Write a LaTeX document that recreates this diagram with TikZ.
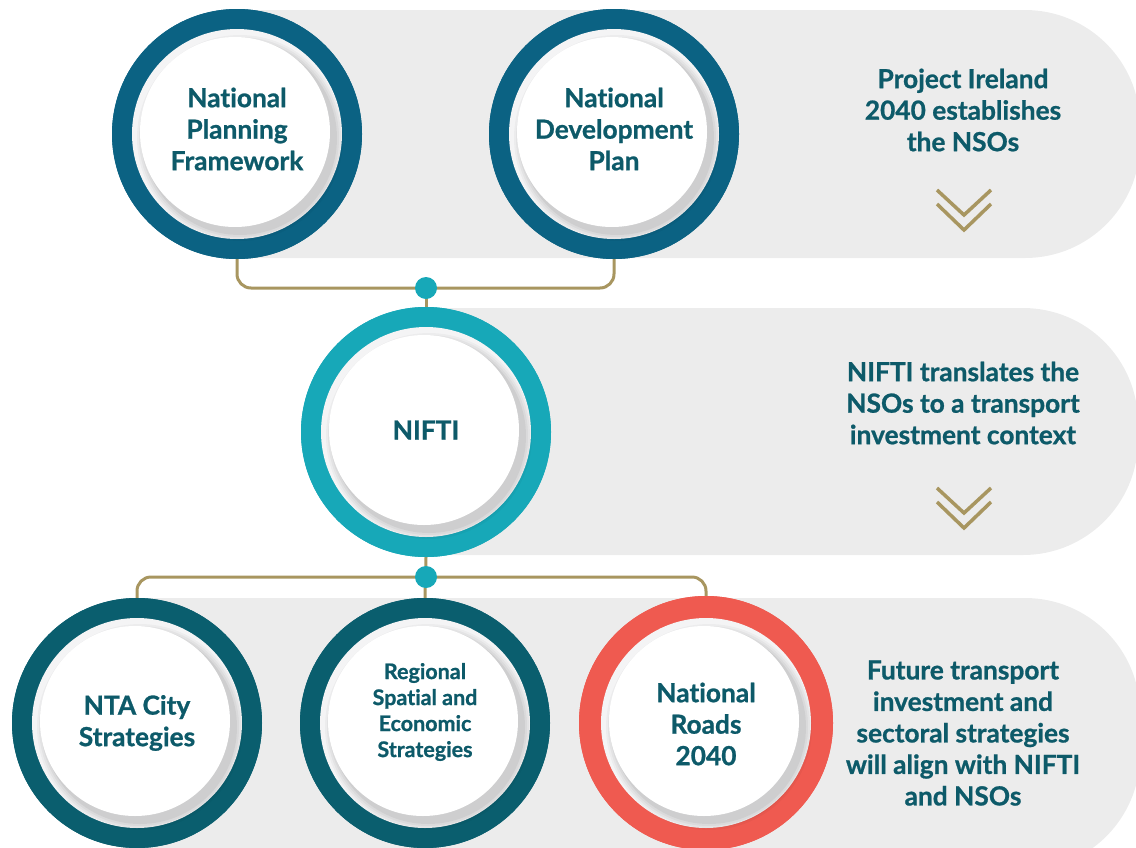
\documentclass[tikz,border=0pt]{standalone}
\usepackage{fontspec}
\setmainfont{Lato}[Ligatures=NoCommon, BoldFeatures={FakeBold=0.9}]
\definecolor{bandgray}{HTML}{ECECEC}
\definecolor{gold}{HTML}{A89660}
\definecolor{navy}{HTML}{0B6283}
\definecolor{darkteal}{HTML}{0A5E6E}
\definecolor{tealc}{HTML}{17A8B8}
\definecolor{coral}{HTML}{EF5A50}
\definecolor{txt}{HTML}{0D5A69}
\definecolor{innergray}{HTML}{F4F4F5}
\newcommand\bandshape[4]{% left, top, bottom, right
  \fill[band] (#1,#2) -- ({#4-115},#2) arc[start angle=90,end angle=0,radius=115pt]
    -- (#4,{#3-115}) arc[start angle=0,end angle=-90,radius=115pt] -- (#1,#3) -- cycle;}
\tikzset{
  band/.style={fill=bandgray},
  conn/.style={draw=gold, line width=3pt, rounded corners=14pt},
  chev/.style={draw=gold, line width=3.5pt},
  joint/.style={circle, fill=tealc, minimum size=22pt, inner sep=0pt},
  disc/.style={circle, minimum size=250pt, inner sep=0pt, fill=#1,
    path picture={
      \fill[innergray] (path picture bounding box.center) circle (105pt);
      \foreach \r/\o in {103/0.03,101/0.035,99/0.04,97/0.05}
        \fill[black,opacity=\o] ([shift={(3pt,-4pt)}]path picture bounding box.center) circle (\r pt);
      \fill[white] ([shift={(-2pt,2pt)}]path picture bounding box.center) circle (95pt);
    }},
  lbl/.style={text=txt, font=\bfseries\fontsize{26.3}{31.5}\selectfont, align=center},
  smalllbl/.style={text=txt, font=\bfseries\fontsize{21.5}{26}\selectfont, align=center},
}
\begin{document}
\begin{tikzpicture}[x=1pt,y=-1pt]
\useasboundingbox (0,0) rectangle (1136,847);
\clip (0,0) rectangle (1136,847);
% bands
\bandshape{237}{10}{258}{1140}
\bandshape{426}{308}{555}{1138}
\bandshape{137}{598}{870}{1140}
% joints
\coordinate (d1) at (426,288);
\coordinate (d2) at (426,577);
% circle nodes
\node[disc=navy] (npf) at (237,134) {};
\node[disc=navy] (ndp) at (614,134) {};
\node[disc=tealc] (nifti) at (426,432) {};
\node[disc=darkteal] (nta) at (137,723) {};
\node[disc=darkteal] (rses) at (425,723) {};
\node[disc=coral, minimum size=254pt] (nr) at (706,723) {};
% connectors
\draw[conn] (npf.south) |- (d1) -| (ndp.south);
\draw[conn] (d1) -- (nifti.north);
\draw[conn] (nifti.south) -- (rses.north);
\draw[conn] (nta.north) |- (d2) -| (nr.north);
% redraw circles over line ends
\node[disc=navy] at (npf) {};
\node[disc=navy] at (ndp) {};
\node[disc=tealc] at (nifti) {};
\node[disc=darkteal] at (nta) {};
\node[disc=darkteal] at (rses) {};
\node[disc=coral, minimum size=254pt] at (nr) {};
\node[joint] (j1) at (d1) {};
\node[joint] (j2) at (d2) {};
% circle labels
\node[lbl] (npft) at (237,129) {National\\Planning\\Framework};
\node[lbl] (ndpt) at (614,129) {National\\Development\\Plan};
\node[lbl] (niftit) at (426,430) {NIFTI};
\node[lbl] (ntat) at (137,723) {NTA City\\Strategies};
\node[smalllbl] (rsest) at (425,712) {Regional\\Spatial and\\Economic\\Strategies};
\node[lbl] (nrt) at (706,724) {National\\Roads\\2040};
% right texts
\node[lbl] (t1) at (963,110) {Project Ireland\\2040 establishes\\the NSOs};
\node[lbl] (t2) at (963,403) {NIFTI translates the\\NSOs to a transport\\investment context};
\node[lbl] (t3) at (963,733) {Future transport\\investment and\\sectoral strategies\\will align with NIFTI\\and NSOs};
% chevrons
\draw[chev] (937,190) -- (964,215) -- (991,190);
\draw[chev] (937,204) -- (964,230) -- (991,204);
\draw[chev] (937,488) -- (964,513) -- (991,488);
\draw[chev] (937,502) -- (964,528) -- (991,502);
\end{tikzpicture}
\end{document}
